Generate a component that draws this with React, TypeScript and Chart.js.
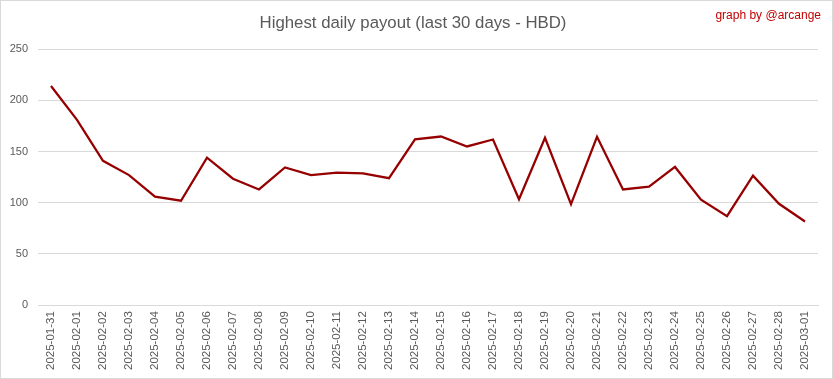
import React, { useEffect, useRef } from "react";
import { Chart, registerables } from "chart.js";

Chart.register(...registerables);

const categories = [
  "2025-01-31", "2025-02-01", "2025-02-02", "2025-02-03", "2025-02-04", "2025-02-05",
  "2025-02-06", "2025-02-07", "2025-02-08", "2025-02-09", "2025-02-10", "2025-02-11",
  "2025-02-12", "2025-02-13", "2025-02-14", "2025-02-15", "2025-02-16", "2025-02-17",
  "2025-02-18", "2025-02-19", "2025-02-20", "2025-02-21", "2025-02-22", "2025-02-23",
  "2025-02-24", "2025-02-25", "2025-02-26", "2025-02-27", "2025-02-28", "2025-03-01",
];

const payout = [
  214, 181, 141, 127, 106, 102, 144, 123.5, 113, 134.5, 127, 129.4, 128.7, 124, 162,
  164.7, 155, 161.8, 103.4, 163.4, 98.6, 164.4, 113, 115.8, 135, 103, 86.9, 126.5, 99, 81.7,
];

const yTicks = [0, 50, 100, 150, 200, 250];

const titleText = "Highest daily payout (last 30 days - HBD)";
const creditText = "graph by @arcange";

const creditPlugin = {
  id: "credit",
  afterDraw(chart: any) {
    const ctx = chart.ctx;
    ctx.save();
    ctx.font = "12px 'Liberation Sans', sans-serif";
    ctx.fillStyle = "#C00000";
    ctx.textAlign = "right";
    ctx.textBaseline = "middle";
    ctx.fillText(creditText, 820, 15);
    ctx.restore();
  },
};

export default function App() {
  const ref = useRef<HTMLCanvasElement | null>(null);

  useEffect(() => {
    document.body.style.margin = "0";
    if (!ref.current) return;
    const chart = new Chart(ref.current, {
      type: "line",
      data: {
        labels: categories,
        datasets: [
          {
            data: payout,
            borderColor: "#960000",
            borderWidth: 2.25,
            pointRadius: 0,
            tension: 0,
            fill: false,
          },
        ],
      },
      options: {
        animation: false,
        responsive: true,
        maintainAspectRatio: false,
        layout: { padding: { top: 8, left: 7, right: 14, bottom: 2 } },
        plugins: {
          legend: { display: false },
          tooltip: { enabled: false },
          title: {
            display: true,
            text: titleText,
            color: "#595959",
            font: { family: "'Liberation Sans', sans-serif", size: 16.8, weight: "normal" },
            padding: { top: 4, bottom: 16 },
          },
        },
        scales: {
          x: {
            offset: true,
            grid: { display: false, drawTicks: false },
            border: { display: true, color: "#d9d9d9", width: 1 },
            ticks: {
              color: "#595959",
              font: { family: "'Liberation Sans', sans-serif", size: 11.5 },
              minRotation: 90,
              maxRotation: 90,
              autoSkip: false,
              padding: 6,
            },
          },
          y: {
            min: 0,
            max: 250,
            afterBuildTicks(axis: any) {
              axis.ticks = yTicks.map((v) => ({ value: v }));
            },
            afterFit(axis: any) {
              axis.width = 30;
            },
            grid: { color: "#d9d9d9", drawTicks: false },
            border: { display: false },
            ticks: {
              color: "#595959",
              font: { family: "'Liberation Sans', sans-serif", size: 11 },
              padding: 10,
            },
          },
        },
      },
      plugins: [creditPlugin],
    });
    return () => chart.destroy();
  }, []);

  return (
    <div
      style={{
        width: 833,
        height: 379,
        boxSizing: "border-box",
        border: "1px solid #d9d9d9",
        position: "relative",
        background: "#fff",
      }}
    >
      <canvas ref={ref} />
    </div>
  );
}
